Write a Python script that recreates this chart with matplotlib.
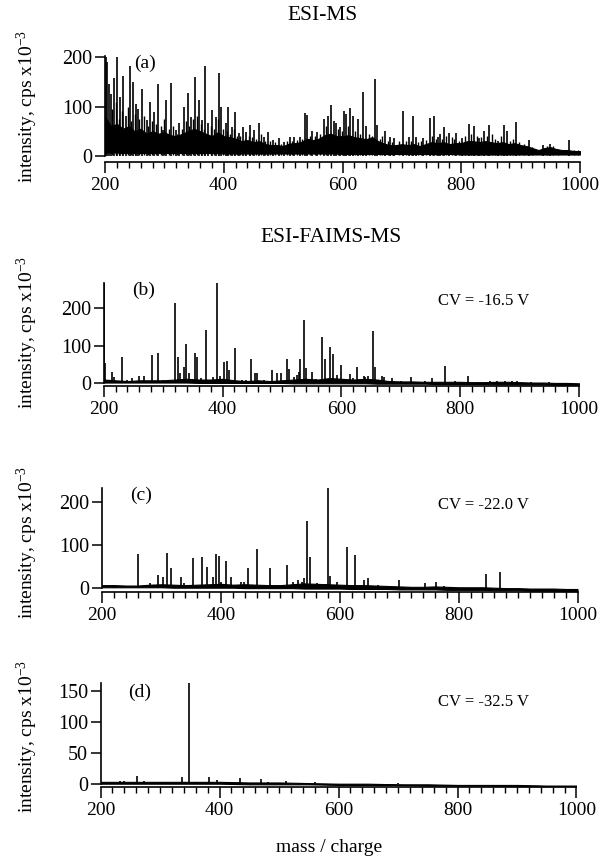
import matplotlib
matplotlib.use('Agg')
import matplotlib.pyplot as plt
from matplotlib.ticker import MultipleLocator

plt.rcParams['font.family'] = ['Liberation Serif', 'DejaVu Serif']
plt.rcParams['mathtext.fontset'] = 'custom'
plt.rcParams['mathtext.rm'] = 'Liberation Serif'
plt.rcParams['mathtext.default'] = 'regular'

# ---------------- data ----------------
xticks = [200, 400, 600, 800, 1000]

# panel (a) ESI-MS: dense "grass" band (every 10 m/z) + main peaks + secondary peaks
grass_a_mz = list(range(200, 1001, 10))
grass_a_hi = [80, 60, 65, 55, 60, 50, 55, 45, 50, 45, 48, 42, 40, 45, 50, 55, 50, 45, 40, 48,
              40, 38, 35, 30, 32, 28, 30, 24, 22, 22, 20, 25, 26, 28, 35, 32, 35, 42, 45, 40,
              40, 42, 38, 36, 34, 38, 30, 25, 22, 22, 24, 22, 24, 20, 24, 28, 26, 28, 24, 26,
              26, 30, 30, 28, 30, 28, 26, 28, 24, 26, 22, 20, 16, 12, 16, 18, 14, 12, 12, 10, 10]
grass_a_lo = [7, 7, 7, 6, 6, 6, 6, 6, 6, 6, 6, 6, 6, 6, 6, 6, 6, 6, 6, 6,
              5, 5, 5, 5, 5, 5, 5, 5, 5, 5, 5, 5, 5, 5, 5, 5, 5, 5, 5, 5,
              4, 4, 4, 4, 4, 4, 4, 4, 4, 4, 4, 4, 4, 4, 4, 4, 4, 4, 4, 4,
              3, 3, 3, 3, 3, 3, 3, 3, 3, 3, 3, 3, 3, 3, 3, 3, 3, 3, 3, 3, 3]
peaks_a = [(201, 200), (204, 190), (207, 145), (210, 125), (215, 157), (221, 200), (226, 120),
           (231, 162), (235, 80), (242, 181), (247, 150), (252, 105), (256, 95), (262, 136),
           (270, 72), (276, 109), (282, 89), (290, 146), (297, 52), (303, 113), (311, 148),
           (319, 52), (325, 66), (333, 99), (339, 127), (345, 79), (352, 160), (358, 113),
           (363, 72), (369, 182), (374, 66), (381, 93), (387, 79), (392, 168), (396, 99),
           (403, 66), (408, 100), (414, 59), (419, 89), (425, 46), (432, 59), (438, 49),
           (445, 62), (451, 52), (459, 66), (467, 39), (474, 49), (483, 32), (493, 36),
           (502, 29), (511, 39), (519, 39), (528, 39), (537, 86), (541, 83), (549, 50),
           (557, 49), (568, 74), (576, 80), (581, 103), (585, 70), (589, 66), (596, 59),
           (602, 91), (606, 85), (612, 97), (617, 80), (626, 74), (635, 130), (639, 60),
           (654, 155), (658, 63), (672, 50), (680, 39), (687, 36), (702, 90), (712, 39),
           (718, 80), (723, 38), (736, 36), (747, 76), (754, 80), (760, 38), (765, 45),
           (771, 59), (779, 47), (792, 47), (802, 36), (813, 64), (822, 60), (830, 36),
           (838, 50), (847, 63), (862, 30), (872, 63), (877, 50), (893, 69), (914, 32),
           (937, 22), (950, 25), (982, 32)]
minor_a = [(212, 95), (218, 110), (224, 75), (228, 90), (238, 100), (244, 70), (250, 85),
           (258, 75), (265, 80), (273, 60), (279, 70), (286, 65), (294, 60), (300, 75),
           (307, 55), (315, 60), (322, 45), (329, 55), (336, 70), (342, 60), (348, 75),
           (355, 80), (361, 65), (366, 55), (378, 60), (384, 55), (390, 75), (399, 55),
           (405, 50), (411, 45), (417, 55), (422, 40), (428, 40), (435, 35), (442, 40),
           (448, 38), (455, 35), (462, 45), (470, 30), (478, 30), (487, 28), (497, 25),
           (506, 30), (515, 30), (523, 32), (532, 35), (545, 40), (553, 40), (562, 45),
           (572, 60), (592, 55), (599, 50), (609, 60), (621, 50), (630, 45), (645, 45),
           (649, 40), (663, 35), (667, 40), (676, 30), (684, 28), (695, 30), (707, 30),
           (715, 30), (727, 28), (732, 30), (741, 32), (751, 40), (757, 35), (768, 35),
           (775, 40), (784, 38), (788, 35), (797, 30), (807, 40), (817, 45), (826, 40),
           (834, 38), (843, 40), (851, 45), (857, 35), (867, 40), (882, 30), (888, 35),
           (898, 28), (905, 25), (920, 18), (945, 20), (955, 20), (963, 15), (990, 12),
           (997, 12)]

# panel (b) CV = -16.5 V
grass_b_mz = list(range(200, 1001, 20))
grass_b_hi = [10, 8, 6, 8, 8, 8, 10, 12, 10, 10, 12, 8, 6, 8, 6, 8, 10, 12, 10, 14, 12,
              10, 12, 10, 6, 5, 5, 4, 4, 4, 4, 3, 3, 4, 4, 3, 2, 2, 1, 1, 0]
grass_b_lo = [2, 2, 2, 2, 2, 2, 2, 2, 1, 1, 1, 1, 1, 1, 1, 1, 0, 0, 0, 0, 0,
              0, 0, -1, -1, -1, -1, -1, -2, -2, -2, -2, -2, -3, -3, -3, -3, -3, -4, -4, -4]
peaks_b = [(201, 267), (203, 53), (214, 31), (218, 18), (230, 71), (240, 8), (247, 13),
           (259, 19), (267, 19), (281, 75), (292, 80), (300, 10), (309, 9), (320, 215),
           (325, 71), (328, 28), (335, 44), (338, 104), (343, 27), (354, 80), (357, 71),
           (363, 15), (372, 142), (384, 18), (391.5, 267), (395, 20), (403, 58), (408, 60),
           (411, 35), (421, 93), (433, 9), (440, 8), (448, 66), (455, 28), (458, 27),
           (470, 8), (484, 35), (492, 27), (499, 27), (508, 64), (512, 37), (520, 18),
           (525, 22), (529, 31), (531, 64), (537, 170), (541, 40), (550, 31), (558, 12),
           (568, 124), (573, 66), (581, 97), (586, 78), (592, 22), (600, 49), (614, 25),
           (620, 15), (626, 44), (638, 19), (640, 18), (645, 20), (653, 139), (656, 44),
           (668, 19), (672, 18), (686, 13), (700, 6), (717, 18), (740, 5), (753, 13),
           (775, 46), (791, 7), (813, 19), (830, 4), (850, 5), (862, 6), (875, 7),
           (888, 7), (895, 7), (920, 3), (950, 3), (978, 2)]

# panel (c) CV = -22.0 V
grass_c_mz = list(range(200, 1001, 20))
grass_c_hi = [6, 6, 5, 5, 7, 8, 7, 6, 7, 8, 9, 7, 8, 7, 6, 6, 8, 10, 9, 8, 7,
              6, 6, 5, 4, 3, 2, 2, 3, 2, 1, 1, 1, 0, -1, -1, -2, -2, -2, -3, -3]
grass_c_lo = [1, 1, 1, 1, 1, 1, 0, 0, 0, 0, 0, 0, -1, -1, -1, -1, -1, -2, -2, -2, -2,
              -3, -3, -3, -3, -4, -4, -4, -4, -5, -5, -5, -5, -6, -6, -6, -7, -7, -7, -8, -8]
peaks_c = [(220, 6), (233, 5), (261, 78), (281, 10), (294, 29), (302, 26), (309, 80),
           (316, 45), (332, 26), (337, 10), (352, 70), (368, 72), (376, 47), (386, 26),
           (392, 78), (396, 74), (400, 14), (408, 63), (417, 24), (433, 14), (438, 14),
           (446, 45), (460, 89), (482, 45), (511, 53), (521, 14), (529, 18), (537, 14),
           (540, 22), (544, 155), (549, 72), (561, 10), (578, 9), (580, 232), (584, 28),
           (596, 14), (612, 94), (626, 75), (641, 17), (647, 22), (665, 6), (700, 19),
           (743, 10), (762, 13), (775, 5), (846, 33), (870, 36)]

# panel (d) CV = -32.5 V
grass_d_mz = list(range(200, 1001, 50))
grass_d_hi = [3, 3, 3, 3, 3, 2, 2, 1, 0, 0, -1, -1, -2, -2, -2, -3, -3]
grass_d_lo = [0, 0, 0, 0, 0, -1, -1, -1, -2, -2, -2, -3, -3, -3, -4, -4, -4]
peaks_d = [(232, 4), (240, 4), (261, 12), (273, 5), (300, 3), (337, 11), (348, 162),
           (360, 3), (382, 11), (395, 6), (434, 10), (469, 8), (481, 3), (511, 4),
           (560, 2), (700, 1)]

panel_labels = ['(a)', '(b)', '(c)', '(d)']
cv_labels = [None, 'CV = -16.5 V', 'CV = -22.0 V', 'CV = -32.5 V']
yticks_list = [[0, 100, 200], [0, 100, 200], [0, 100, 200], [0, 50, 100, 150]]
ytops = [203, 268, 233, 162]

# ---------------- layout (pixels) ----------------
W, H = 600, 856
# x of 200, x of 1000, y pixel of 0, px per unit, y pixel of x-axis line
geom = [(105, 580, 156, 0.495, 162),
        (103.7, 579, 383.3, 0.375, 386),
        (102.2, 577.5, 587.7, 0.43, 591.7),
        (100.6, 576.5, 783.7, 0.62, 786.7)]
label_pos = [(145, 63), (143.5, 290), (141, 495), (140, 692)]
cv_pos = [None, (438, 301), (438, 505), (438, 702)]
ylab_pos = [(27, 106), (27, 332), (27, 542), (27, 736)]

fig = plt.figure(figsize=(W / 100, H / 100), dpi=100)

grasses = [(grass_a_mz, grass_a_lo, grass_a_hi), (grass_b_mz, grass_b_lo, grass_b_hi),
           (grass_c_mz, grass_c_lo, grass_c_hi), (grass_d_mz, grass_d_lo, grass_d_hi)]
peaks_all = [peaks_a, peaks_b, peaks_c, peaks_d]

for i in range(4):
    x200, x1000, y0, ppu, yline = geom[i]
    ytop = ytops[i]
    ybot = -(yline - y0) / ppu
    top_px = y0 - ytop * ppu
    ax = fig.add_axes([x200 / W, (H - yline) / H, (x1000 - x200) / W, (yline - top_px) / H])
    ax.set_xlim(200, 1000)
    ax.set_ylim(ybot, ytop)
    gm, glo, ghi = grasses[i]
    ax.fill_between(gm, glo, ghi, color='black', lw=0.8, edgecolor='black')
    if i == 0:
        ax.vlines([p[0] for p in minor_a], 3, [p[1] for p in minor_a], color='black', lw=1.0)
    mz = [p[0] for p in peaks_all[i]]
    hh = [p[1] for p in peaks_all[i]]
    ax.vlines(mz, 0, hh, color='black', lw=1.2)
    for s in ['top', 'right']:
        ax.spines[s].set_visible(False)
    ax.spines['left'].set_bounds(0, ytop)
    ax.spines['left'].set_linewidth(1.2)
    ax.spines['bottom'].set_linewidth(1.2)
    ax.set_xticks(xticks)
    ax.xaxis.set_minor_locator(MultipleLocator(20))
    ax.set_yticks(yticks_list[i])
    ax.tick_params(axis='x', which='major', direction='out', length=8, width=1.1,
                   labelsize=14, pad=3)
    ax.tick_params(axis='x', which='minor', direction='out', length=4.5, width=1.0)
    ax.tick_params(axis='y', which='major', direction='out', length=7, width=1.1,
                   labelsize=14.5, pad=2)
    ax.patch.set_alpha(0)
    lx, ly = label_pos[i]
    fig.text(lx / W, 1 - ly / H, panel_labels[i], fontsize=14, ha='center', va='center')
    if cv_labels[i]:
        cx, cy = cv_pos[i]
        fig.text(cx / W, 1 - cy / H, cv_labels[i], fontsize=12, ha='left', va='center')
    yx, yy = ylab_pos[i]
    fig.text(yx / W, 1 - yy / H, r'intensity, cps x10$^{-3}$', fontsize=14,
             rotation=90, ha='center', va='center')

fig.text(323 / W, 1 - 15 / H, 'ESI-MS', fontsize=15.5, ha='center', va='center')
fig.text(331 / W, 1 - 237 / H, 'ESI-FAIMS-MS', fontsize=15.5, ha='center', va='center')
fig.text(329 / W, 1 - 848 / H, 'mass / charge', fontsize=14, ha='center', va='center')

fig.savefig('out.png', dpi=100)
